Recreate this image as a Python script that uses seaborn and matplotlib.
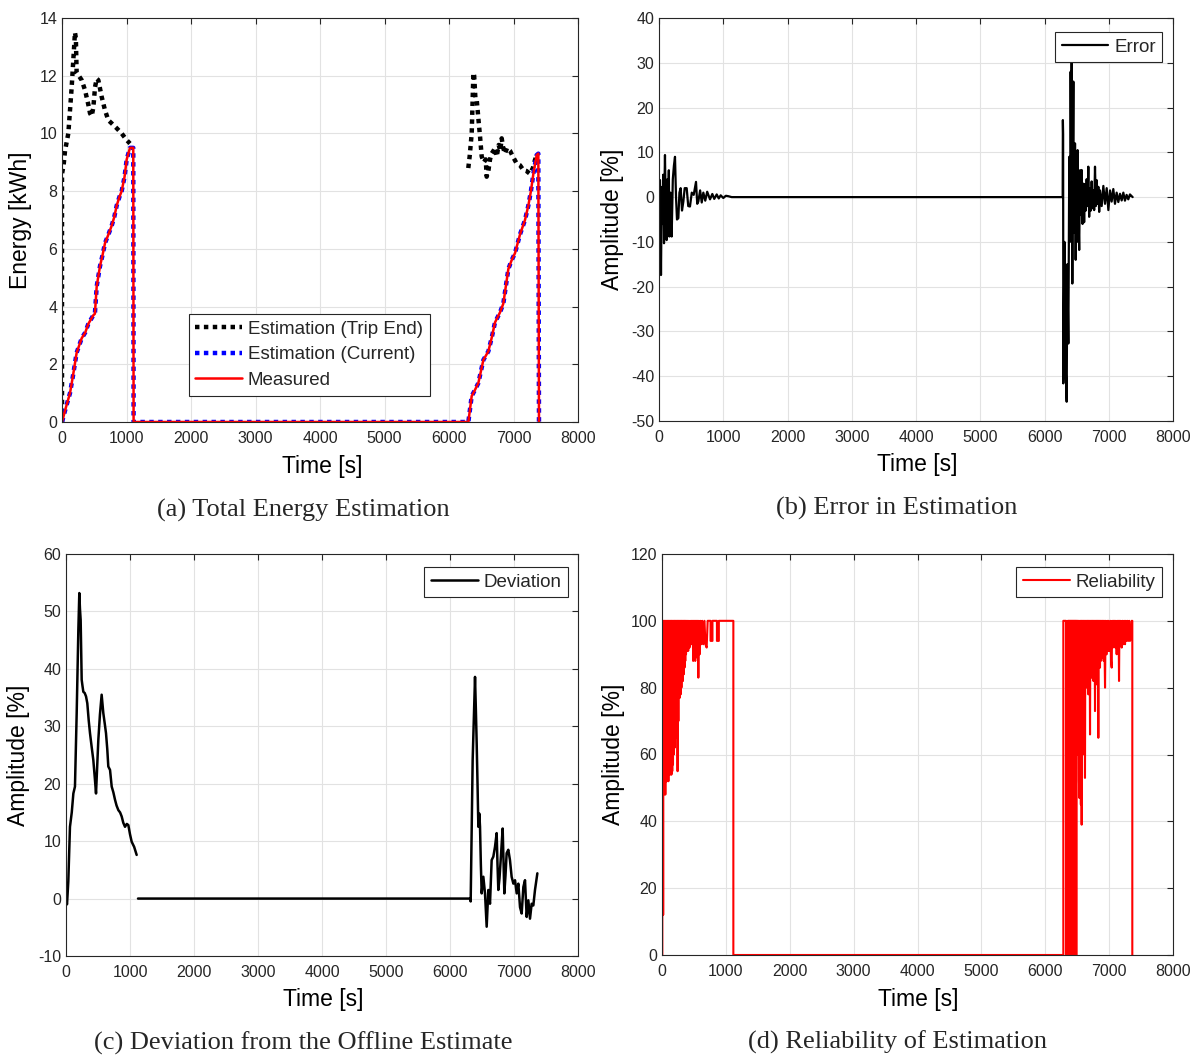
import matplotlib
matplotlib.use("Agg")
import matplotlib.pyplot as plt
from matplotlib.lines import Line2D
import pandas as pd
import seaborn as sns

# ---------------- (a) Total energy estimation ----------------
meas_t = [0, 60, 124, 170, 227, 305, 360, 408, 486, 510, 538, 589, 630, 667, 720, 770, 810, 848, 890, 925,
          970, 1003, 1054, 1105, 1110, 6300, 6352, 6400, 6455, 6533, 6610, 6660, 6713, 6791, 6842, 6920,
          6970, 7023, 7101, 7178, 7230, 7270, 7308, 7359, 7385, 7395]
meas_v = [0.0, 0.5, 1.0, 1.6, 2.4, 2.9, 3.1, 3.4, 3.7, 3.75, 4.7, 5.4, 5.8, 6.2, 6.5, 6.8, 7.1, 7.5, 7.8, 8.0,
          8.5, 9.1, 9.5, 9.5, 0.0, 0.0, 0.9, 1.1, 1.35, 2.15, 2.45, 2.9, 3.45, 3.8, 4.1, 5.3,
          5.6, 5.85, 6.5, 7.0, 7.5, 8.0, 8.6, 9.25, 9.3, 0.0]

trip1_t = [0, 0, 25, 47, 98, 150, 201, 215, 227, 260, 305, 357, 408, 434, 460, 486, 512, 538, 563, 615,
           667, 718, 770, 848, 925, 1003, 1054]
trip1_v = [0.0, 8.6, 8.9, 9.4, 10.0, 11.6, 13.5, 13.3, 12.1, 12.0, 11.85, 11.5, 11.0, 10.7, 10.6, 10.9,
           11.6, 11.9, 11.85, 11.27, 10.8, 10.46, 10.35, 10.18, 10.0, 9.77, 9.65]
trip2_t = [6299, 6320, 6352, 6378, 6390, 6410, 6430, 6460, 6481, 6507, 6540, 6570, 6584, 6610, 6636, 6660,
           6690, 6713, 6740, 6770, 6795, 6817, 6840, 6868, 6900, 6946, 6990, 7049, 7100, 7152, 7200, 7256,
           7300, 7333, 7359]
trip2_v = [8.8, 9.2, 10.0, 12.1, 12.0, 11.2, 11.16, 10.4, 9.9, 9.2, 9.0, 9.1, 8.5, 8.7, 9.1, 9.3,
           9.4, 9.5, 9.2, 9.6, 9.4, 9.83, 9.5, 9.3, 9.5, 9.4, 9.2, 8.96, 8.9, 8.73, 8.7, 8.6,
           8.8, 9.08, 9.25]

# ---------------- (b) Error in estimation ----------------
err_t = [16, 24, 31, 40, 50, 57, 66, 78, 86, 93, 105, 119, 132, 145, 153, 161, 178, 197, 215, 232, 249, 265,
         280, 301, 318, 337, 358, 379, 400, 431, 455, 482, 510, 540, 576, 595, 612, 640, 665, 690, 720, 750,
         794, 830, 860, 898, 930, 960, 1001, 1040, 1080, 1131,
         6283, 6286, 6290, 6293, 6300, 6310, 6319, 6330, 6345, 6355, 6371, 6386, 6397, 6407, 6416, 6423,
         6433, 6442, 6449, 6457, 6464, 6475, 6485, 6495, 6505, 6515, 6526, 6540, 6553, 6566, 6579, 6592,
         6604, 6617, 6630, 6643, 6656, 6669, 6682, 6695, 6708, 6721, 6734, 6747, 6760, 6773, 6786, 6799,
         6812, 6825, 6838, 6851, 6864, 6890, 6916, 6942, 6968, 6994, 7020, 7045, 7071, 7097, 7123, 7149,
         7175, 7201, 7227, 7252, 7278, 7304, 7330, 7350, 7372]
err_v = [3.8, -5, -17.4, -2, 2.3, -6, 5, -10.3, 3, 9.4, -3, -9.6, 4, 0, 6, -8.8, 1, -8.8, 4, 7, 9.0, 0,
         -5, -4.7, 1, 2.0, -3, -1.0, 2, 2.0, -2, -2.1, 1, 0.5, 3.4, -1.5, -1, 1.5, -1.2, 1, -0.8, 1.2,
         -0.5, 0.7, -0.4, 0.6, -0.3, 0.4, -0.2, 0.3, 0.2, 0,
         0, 17.2, 14, -41.6, -30, -10, -20.7, -38, -45.7, -15, -32.7, 9, -10, 28, 5, 30.6,
         -19.3, 12, 25.8, -8, -5.1, 12, -14, 4, -10, 10.5, -2, -11.8, 6, -4, 6.05, -6,
         3, -5.6, 2.9, -3, 4, -2, 6.8, -4.4, 2, -3, 3.5, -2.5, 1.5, -2.9, 6.8, -2,
         3.8, -1.5, 2.3, -3.3, 1.5, -2, 2.5, -1.5, 2, -2.9, 1.5, -1, 1.8, -1.5, 1, -1.1,
         0.75, -0.75, 1, -0.8, 0.5, -0.5, 0.6, 0.3, 0]

# ---------------- (c) Deviation from offline estimate ----------------
dev1_t = [0, 16, 36, 62, 90, 115, 140, 167, 193, 208, 218, 229, 245, 258, 271, 292, 313, 333, 355, 375, 400,
          427, 450, 469, 505, 530, 557, 583, 605, 625, 645, 661, 688, 714, 740, 766, 790, 818, 845, 870,
          895, 922, 950, 974, 1000, 1026, 1065, 1104]
dev1_v = [-0.5, -1.0, 3.0, 12.5, 15.0, 18.3, 19.5, 32.3, 46.8, 53.2, 50.5, 48.5, 38.1, 37.0, 36.0, 35.8,
          35.2, 34.0, 31.0, 28.8, 26.5, 24.1, 21.0, 18.3, 27.6, 32.0, 35.5, 32.3, 30.5, 28.8, 26.0, 23.0,
          22.4, 19.5, 18.5, 17.2, 16.2, 15.4, 15.0, 14.3, 13.2, 12.5, 13.0, 12.8, 11.2, 9.9, 9.0, 7.6]
dev2_t = [1125, 6312, 6323, 6354, 6391, 6404, 6417, 6430, 6443, 6458, 6469, 6482, 6495, 6521, 6547, 6573,
          6599, 6625, 6651, 6677, 6703, 6729, 6742, 6755, 6773, 6792, 6810, 6823, 6849, 6867, 6885, 6911,
          6937, 6963, 6990, 7016, 7042, 7068, 7094, 7120, 7146, 7172, 7198, 7224, 7250, 7276, 7302, 7328,
          7365]
dev2_v = [0, 0, -0.5, 24.1, 38.6, 33.0, 27.0, 20.0, 12.5, 14.8, 12.5, 6.0, 0.9, 3.8, 0.9, -4.9,
          1.5, -0.9, 6.7, 7.3, 9.0, 11.4, 6.0, 1.5, 3.5, 6.7, 10.0, 12.2, 0.9, 4.0, 7.9, 8.5,
          6.7, 3.8, 2.6, 3.2, 0.9, 2.6, -1.5, -2.6, 2.0, 3.2, -3.2, -0.3, -3.5, -0.9, -1.2, 1.5,
          4.4]

# ---------------- (d) Reliability of estimation ----------------
rel_t = [0, 5, 5, 12, 18, 22, 28, 34, 40, 46, 52, 58, 64, 70, 76, 82, 88, 94, 100, 106, 112, 118, 124, 130,
         136, 142, 148, 154, 160, 166, 172, 178, 184, 190, 196, 202, 208, 214, 220, 226, 232, 238, 244, 250,
         256, 262, 268, 274, 280, 286, 292, 298, 304, 310, 316, 322, 328, 334, 340, 346, 352, 358, 364, 370,
         376, 382, 390, 400, 410, 420, 430, 440, 450, 460, 470, 480, 488, 496, 504, 512, 520, 528, 536, 544,
         552, 560, 569, 578, 590, 600, 615, 630, 647, 665, 680, 699, 715, 760, 760, 790, 790, 860, 860, 890,
         890, 1117, 1117,
         6283, 6283, 6325, 6325, 6346, 6346, 6350, 6354, 6358, 6362, 6366, 6370, 6374, 6378, 6382, 6386,
         6390, 6394, 6398, 6402, 6406, 6410, 6414, 6418, 6422, 6426, 6430, 6434, 6438, 6442, 6446, 6450,
         6454, 6458, 6462, 6466, 6470, 6474, 6478, 6482, 6486, 6490, 6495, 6500, 6505, 6510, 6516, 6522,
         6528, 6534, 6540, 6546, 6552, 6558, 6564, 6570, 6576, 6582, 6590, 6596, 6603, 6609, 6615, 6622,
         6628, 6635, 6641, 6648, 6655, 6661, 6668, 6675, 6681, 6688, 6694, 6701, 6707, 6714, 6720, 6727,
         6733, 6740, 6746, 6753, 6759, 6766, 6772, 6779, 6785, 6792, 6798, 6805, 6811, 6818, 6824, 6831,
         6837, 6844, 6850, 6857, 6863, 6870, 6876, 6884, 6892, 6899, 6906, 6915, 6922, 6936, 6945, 6953,
         6962, 6970, 6980, 6990, 7000, 7014, 7022, 7030, 7040, 7048, 7058, 7068, 7076, 7086, 7096, 7106,
         7118, 7128, 7138, 7148, 7155, 7162, 7172, 7182, 7197, 7210, 7222, 7235, 7249, 7262, 7275, 7288,
         7301, 7314, 7327, 7340, 7353, 7363, 7363]
rel_v = [0, 0, 100, 100, 12, 100, 48, 100, 49, 100, 48, 100, 52, 100, 52, 100, 53, 100, 52, 100, 54, 100, 55, 100,
         54, 100, 54, 100, 55, 100, 57, 100, 60, 100, 62, 100, 65, 100, 65, 100, 66, 100, 55, 100,
         70, 100, 77, 100, 77, 100, 78, 100, 80, 100, 82, 100, 82, 100, 84, 100, 86, 100, 88, 100,
         90, 100, 91, 100, 91, 100, 92, 100, 93, 100, 93, 100, 88, 100, 89, 100, 88, 100, 90, 100,
         89, 100, 83, 100, 90, 100, 93, 100, 93, 100, 93, 92, 100, 100, 94, 94, 100, 100, 94, 94,
         100, 100, 0,
         0, 100, 100, 0, 0, 37, 0, 100, 0, 100, 0, 100, 0, 100, 0, 100,
         0, 100, 0, 100, 0, 100, 0, 100, 0, 100, 0, 100, 0, 100, 0, 100,
         0, 100, 0, 100, 0, 100, 0, 100, 0, 100, 67, 100, 60, 100, 66, 100,
         52, 47, 100, 55, 100, 45, 100, 39, 100, 70, 100, 72, 100, 60, 100, 53,
         100, 80, 100, 83, 100, 80, 100, 78, 100, 82, 100, 66, 100, 84, 100, 83,
         100, 85, 100, 82, 100, 84, 100, 73, 100, 85, 100, 81, 100, 86, 100, 65,
         100, 87, 100, 86, 100, 88, 100, 89, 100, 89, 100, 88, 100, 80, 100, 90,
         90, 100, 91, 100, 91, 91, 100, 88, 86, 100, 92, 100, 94, 100, 92, 100,
         90, 100, 92, 100, 82, 100, 93, 100, 92, 100, 93, 100, 93, 100, 94, 100,
         94, 100, 94, 95, 100, 100, 0]

x_ticks = [0, 1000, 2000, 3000, 4000, 5000, 6000, 7000, 8000]

# ---------------- style ----------------
sns.set_theme(style="white")
plt.rcParams['font.family'] = ['Liberation Sans', 'DejaVu Sans']
plt.rcParams['axes.unicode_minus'] = False

DARK = '#262626'
fig = plt.figure(figsize=(11.98, 10.57), dpi=100)
axA = fig.add_axes([62/1198, 1-422/1057, 516/1198, 404/1057])
axB = fig.add_axes([659/1198, 1-421/1057, 514/1198, 403/1057])
axC = fig.add_axes([66/1198, 1-956/1057, 512/1198, 402/1057])
axD = fig.add_axes([662/1198, 1-955/1057, 511/1198, 401/1057])


def draw(ax, t, v, seg, **kw):
    df = pd.DataFrame({'t': t, 'v': v, 'seg': seg})
    sns.lineplot(data=df, x='t', y='v', units='seg', estimator=None, sort=False,
                 ax=ax, legend=False, **kw)


def style(ax, ylim, yticks, ylabel, xl, yl):
    ax.set_xlim(0, 8000)
    ax.set_xticks(x_ticks)
    ax.set_xticklabels([str(x) for x in x_ticks])
    ax.set_ylim(*ylim)
    ax.set_yticks(yticks)
    ax.set_yticklabels([str(y) for y in yticks])
    ax.grid(True, color='#e2e2e2', lw=0.8)
    ax.set_axisbelow(True)
    ax.tick_params(axis='both', direction='in', top=True, right=True, length=4, width=0.8,
                   color=DARK, labelsize=11.5, labelcolor=DARK)
    ax.tick_params(axis='x', pad=6.5)
    ax.tick_params(axis='y', pad=3.5)
    for sp in ax.spines.values():
        sp.set_visible(True)
        sp.set_color(DARK)
        sp.set_linewidth(0.8)
    ax.set_xlabel('Time [s]', fontsize=16.5, color='black')
    ax.xaxis.label.set_verticalalignment('center')
    ax.xaxis.set_label_coords(*xl)
    ax.set_ylabel(ylabel, fontsize=16.5, color='black')
    ax.yaxis.label.set_verticalalignment('center')
    ax.yaxis.set_label_coords(*yl)


leg_kw = dict(fontsize=13.5, frameon=True, fancybox=False, framealpha=1, edgecolor=DARK,
              borderpad=0.35, handlelength=2.5, handletextpad=0.3, labelspacing=0.45,
              borderaxespad=0)

DOT = (0, (1, 1))

# (a)
draw(axA, trip1_t + trip2_t, trip1_v + trip2_v, [0]*len(trip1_t) + [1]*len(trip2_t),
     color='black', lw=3.2, linestyle=DOT)
draw(axA, meas_t, meas_v, [0]*len(meas_t), color='blue', lw=3.2, linestyle=DOT)
draw(axA, meas_t, meas_v, [0]*len(meas_t), color='red', lw=1.8)
style(axA, (0, 14), list(range(0, 15, 2)), 'Energy [kWh]', (0.504, -0.111), (-0.081, 0.5))
hA = [Line2D([], [], color='black', lw=3.2, linestyle=DOT),
      Line2D([], [], color='blue', lw=3.2, linestyle=DOT),
      Line2D([], [], color='red', lw=1.8)]
lgA = axA.legend(hA, ['Estimation (Trip End)', 'Estimation (Current)', 'Measured'],
                 loc='upper left', bbox_to_anchor=(0.246, 0.267), **leg_kw)
lgA.get_frame().set_linewidth(0.8)

# (b)
draw(axB, err_t, err_v, [0]*len(err_t), color='black', lw=1.6)
style(axB, (-50, 40), list(range(-50, 41, 10)), 'Amplitude [%]', (0.502, -0.109), (-0.0895, 0.5))
lgB = axB.legend([Line2D([], [], color='black', lw=1.6)], ['Error'],
                 loc='upper right', bbox_to_anchor=(0.979, 0.965), **leg_kw)
lgB.get_frame().set_linewidth(0.8)

# (c)
draw(axC, dev1_t + dev2_t, dev1_v + dev2_v, [0]*len(dev1_t) + [1]*len(dev2_t), color='black', lw=1.8)
style(axC, (-10, 60), list(range(-10, 61, 10)), 'Amplitude [%]', (0.502, -0.109), (-0.0918, 0.5))
lgC = axC.legend([Line2D([], [], color='black', lw=1.8)], ['Deviation'],
                 loc='upper right', bbox_to_anchor=(0.980, 0.968), **leg_kw)
lgC.get_frame().set_linewidth(0.8)

# (d)
draw(axD, rel_t, rel_v, [0]*len(rel_t), color='red', lw=1.5)
style(axD, (0, 120), list(range(0, 121, 20)), 'Amplitude [%]', (0.501, -0.110), (-0.094, 0.5))
lgD = axD.legend([Line2D([], [], color='red', lw=1.5)], ['Reliability'],
                 loc='upper right', bbox_to_anchor=(0.978, 0.968), **leg_kw)
lgD.get_frame().set_linewidth(0.8)

serif = ['Liberation Serif', 'DejaVu Serif']
fig.text(303/1198, 1-510/1057, '(a) Total Energy Estimation', ha='center', va='center', fontsize=19, family=serif)
fig.text(897/1198, 1-508/1057, '(b) Error in Estimation', ha='center', va='center', fontsize=19, family=serif)
fig.text(303/1198, 1-1043/1057, '(c) Deviation from the Offline Estimate', ha='center', va='center', fontsize=19, family=serif)
fig.text(897/1198, 1-1042/1057, '(d) Reliability of Estimation', ha='center', va='center', fontsize=19, family=serif)

fig.savefig('out.png', dpi=100)
